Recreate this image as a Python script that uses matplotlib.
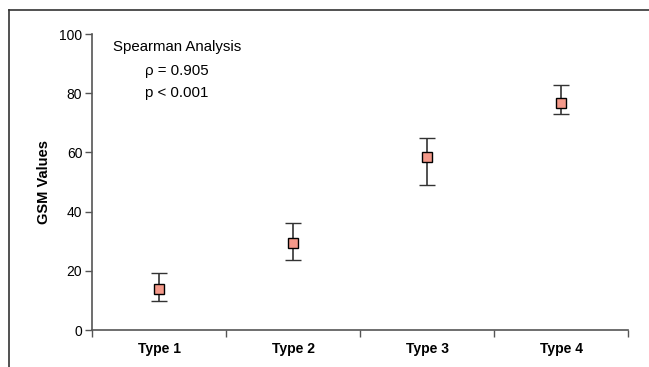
import matplotlib
matplotlib.use("Agg")
import matplotlib.pyplot as plt
from matplotlib.lines import Line2D

categories = ["Type 1", "Type 2", "Type 3", "Type 4"]
means = [13.7, 29.5, 58.5, 76.6]
upper = [19.1, 36.2, 64.8, 82.8]
lower = [9.7, 23.6, 49.1, 72.9]
yticks = [0, 20, 40, 60, 80, 100]

plt.rcParams['font.family'] = ['Liberation Sans', 'DejaVu Sans']

fig = plt.figure(figsize=(6.49, 3.67), dpi=100)
ax = fig.add_axes([92/649, 37/367, (628-92)/649, (330-34)/367])

x = list(range(1, len(categories) + 1))
err_lo = [m - l for m, l in zip(means, lower)]
err_hi = [u - m for m, u in zip(means, upper)]
ax.errorbar(x, means, yerr=[err_lo, err_hi], fmt='s', ms=7,
            mfc='#F4998A', mec='black', mew=1.0,
            ecolor='#333333', elinewidth=1.2, capsize=6, capthick=1.2, zorder=3)

ax.set_xlim(0.5, len(categories) + 0.5)
ax.set_ylim(0, 100)
ax.set_yticks(yticks)
ax.set_yticklabels([str(t) for t in yticks], fontsize=10)
ax.set_xticks([i + 0.5 for i in range(0, len(categories) + 1)])
ax.set_xticklabels([])
ax.set_xticks(x, minor=True)
ax.set_xticklabels(categories, minor=True, fontsize=10, fontweight='bold')
ax.tick_params(axis='x', which='minor', length=0, pad=9)
ax.tick_params(axis='x', which='major', length=5, width=1, color='#555555', direction='out')
ax.tick_params(axis='y', length=5, width=1, color='#555555', direction='out', pad=2)
for s in ['top', 'right']:
    ax.spines[s].set_visible(False)
for s in ['left', 'bottom']:
    ax.spines[s].set_color('#555555')
    ax.spines[s].set_linewidth(1.2)
ax.set_ylabel("GSM Values", fontsize=10.5, fontweight='bold', labelpad=6)

ax.text(0.04, 0.955, "Spearman Analysis", transform=ax.transAxes, fontsize=10.8, va='center')
ax.text(0.099, 0.875, "\u03c1 = 0.905", transform=ax.transAxes, fontsize=10.8, va='center')
ax.text(0.099, 0.800, "p < 0.001", transform=ax.transAxes, fontsize=10.8, va='center')

# partial frame (top and left) around the figure
fig.add_artist(Line2D([9/649, 1.0], [1 - 10/367, 1 - 10/367], color='#333333', lw=1.2))
fig.add_artist(Line2D([9/649, 9/649], [0, 1 - 10/367], color='#333333', lw=1.2))

fig.savefig("out.png", dpi=100)
